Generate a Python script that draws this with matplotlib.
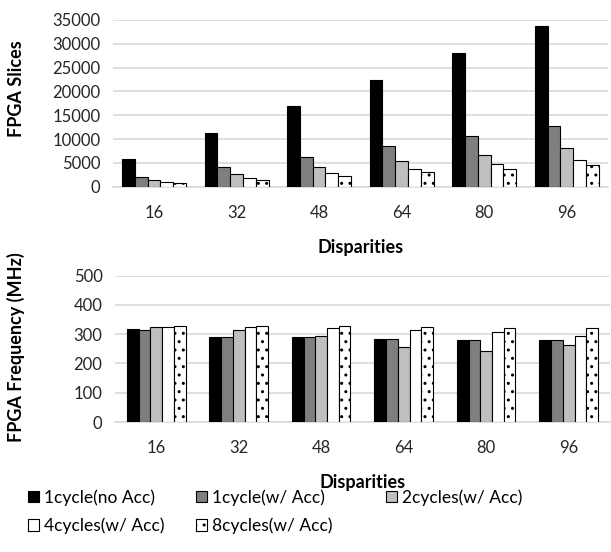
import numpy as np
import matplotlib.pyplot as plt

plt.rcParams["font.family"] = ["Lato", "DejaVu Sans"]
plt.rcParams["hatch.linewidth"] = 1.0

disparities = ["16", "32", "48", "64", "80", "96"]
series = ["1cycle(no Acc)", "1cycle(w/ Acc)", "2cycles(w/ Acc)",
          "4cycles(w/ Acc)", "8cycles(w/ Acc)"]

# FPGA slices
slices_1cyc_noacc = [5750, 11350, 16950, 22480, 28090, 33700]
slices_1cyc_acc = [1980, 4080, 6300, 8490, 10650, 12690]
slices_2cyc_acc = [1350, 2730, 4080, 5340, 6660, 8070]
slices_4cyc_acc = [920, 1890, 2820, 3720, 4700, 5550]
slices_8cyc_acc = [780, 1470, 2250, 3030, 3720, 4500]

# FPGA frequency (MHz)
freq_1cyc_noacc = [317, 292, 289, 284, 281, 279]
freq_1cyc_acc = [316, 292, 289, 284, 281, 279]
freq_2cyc_acc = [324, 316, 295, 258, 241, 264]
freq_4cyc_acc = [326, 325, 321, 316, 308, 295]
freq_8cyc_acc = [327, 327, 327, 325, 323, 321]

colors = ["#000000", "#7f7f7f", "#bfbfbf", "#ffffff", "#ffffff"]
hatches = [None, None, None, None, ".."]

fig = plt.figure(figsize=(6.11, 5.52), dpi=100)
ax1 = fig.add_axes([0.1845, 0.6618, 0.8106, 0.302])
ax2 = fig.add_axes([0.1882, 0.2355, 0.810, 0.265])


def draw(ax, data, total_w, ymax, step, ylabel):
    x = np.arange(len(disparities))
    w = total_w / len(data)
    bars = []
    for i, vals in enumerate(data):
        off = (i - (len(data) - 1) / 2) * w
        b = ax.bar(x + off, vals, w, color=colors[i], edgecolor="black",
                   linewidth=0.8, hatch=hatches[i], label=series[i], zorder=3)
        bars.append(b)
    ax.set_xlim(-0.5, len(disparities) - 0.5)
    ax.set_ylim(0, ymax)
    ax.set_yticks(np.arange(0, ymax + 1, step))
    ax.yaxis.grid(True, color="#d9d9d9", linewidth=1.2, zorder=0)
    ax.set_axisbelow(True)
    for s in ["top", "right", "left"]:
        ax.spines[s].set_visible(False)
    ax.spines["bottom"].set_color("#d9d9d9")
    ax.spines["bottom"].set_linewidth(1.2)
    ax.set_xticks(x)
    ax.set_xticklabels(disparities)
    ax.tick_params(axis="both", length=0, labelsize=12, labelcolor="#262626")
    ax.tick_params(axis="x", pad=13)
    ax.tick_params(axis="y", pad=9)
    ax.set_xlabel("Disparities", fontsize=13, fontweight="bold", labelpad=13)
    ax.set_ylabel(ylabel, fontsize=13, fontweight="bold")
    return bars


draw(ax1, [slices_1cyc_noacc, slices_1cyc_acc, slices_2cyc_acc,
           slices_4cyc_acc, slices_8cyc_acc], 0.775, 35000, 5000, "FPGA Slices")
bars = draw(ax2, [freq_1cyc_noacc, freq_1cyc_acc, freq_2cyc_acc,
                  freq_4cyc_acc, freq_8cyc_acc], 0.71, 500, 100,
            "FPGA Frequency (MHz)")
ax1.yaxis.set_label_coords(25 / 611, 1 - 89 / 552, transform=fig.transFigure)
ax2.yaxis.set_label_coords(25 / 611, 1 - 347 / 552, transform=fig.transFigure)
ax2.xaxis.set_label_coords(0.5, -0.355)

# Excel-style legend: fixed-width columns, filled row by row
columns = [[0, 3], [1, 4], [2]]
col_x = [28, 196, 386]
for idx, cx in zip(columns, col_x):
    fig.legend([bars[i] for i in idx], [series[i] for i in idx],
               loc="upper left", bbox_to_anchor=(cx / 611, 1 - 489 / 552),
               frameon=False, fontsize=12.5, handlelength=0.65,
               handleheight=0.65, handletextpad=0.3, labelspacing=0.7,
               borderaxespad=0, borderpad=0)

fig.savefig("out.png", dpi=100)
